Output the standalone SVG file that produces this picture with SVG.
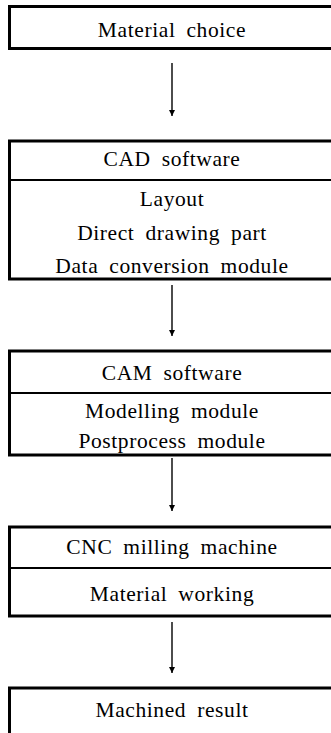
<svg xmlns="http://www.w3.org/2000/svg" width="331" height="733" viewBox="0 0 331 733">
<style>
.box{fill:#fff;stroke:#000;stroke-width:3}
.div{stroke:#000;stroke-width:2}
.t{font-family:"Liberation Serif","Times New Roman",serif;font-size:21.5px;letter-spacing:0.6px;word-spacing:5px;text-anchor:middle;fill:#000}
.c{stroke:#000;stroke-width:1.4;fill:none}
</style>
<defs>
<marker id="ah" viewBox="0 0 6 8" refX="6" refY="4" markerWidth="6" markerHeight="8" markerUnits="userSpaceOnUse" orient="auto">
<path d="M0,1 L6,4 L0,7 Z" fill="#000"/>
</marker>
</defs>
<rect width="331" height="733" fill="#fff"/>
<g id="material-choice">
<rect class="box" x="9.5" y="6.5" width="340" height="42"/>
<text class="t" x="172" y="37">Material choice</text>
</g>
<g id="cad-software">
<rect class="box" x="9.5" y="141" width="340" height="138"/>
<line class="div" x1="9.5" y1="180" x2="331" y2="180"/>
<text class="t" x="172" y="166">CAD software</text>
<text class="t" x="172" y="206">Layout</text>
<text class="t" x="172" y="240">Direct drawing part</text>
<text class="t" x="172" y="273">Data conversion module</text>
</g>
<g id="cam-software">
<rect class="box" x="9.5" y="351" width="340" height="104"/>
<line class="div" x1="9.5" y1="393" x2="331" y2="393"/>
<text class="t" x="172" y="380">CAM software</text>
<text class="t" x="172" y="418">Modelling module</text>
<text class="t" x="172" y="448">Postprocess module</text>
</g>
<g id="cnc-milling">
<rect class="box" x="9.5" y="527" width="340" height="89"/>
<line class="div" x1="9.5" y1="568" x2="331" y2="568"/>
<text class="t" x="172" y="554">CNC milling machine</text>
<text class="t" x="172" y="601">Material working</text>
</g>
<g id="machined-result">
<rect class="box" x="9.5" y="688" width="340" height="80"/>
<text class="t" x="172" y="717">Machined result</text>
</g>
<g id="connectors">
<line class="c" x1="172" y1="63" x2="172" y2="116" marker-end="url(#ah)"/>
<line class="c" x1="172" y1="285" x2="172" y2="336" marker-end="url(#ah)"/>
<line class="c" x1="172" y1="458" x2="172" y2="511" marker-end="url(#ah)"/>
<line class="c" x1="172" y1="622" x2="172" y2="673" marker-end="url(#ah)"/>
</g>
</svg>
